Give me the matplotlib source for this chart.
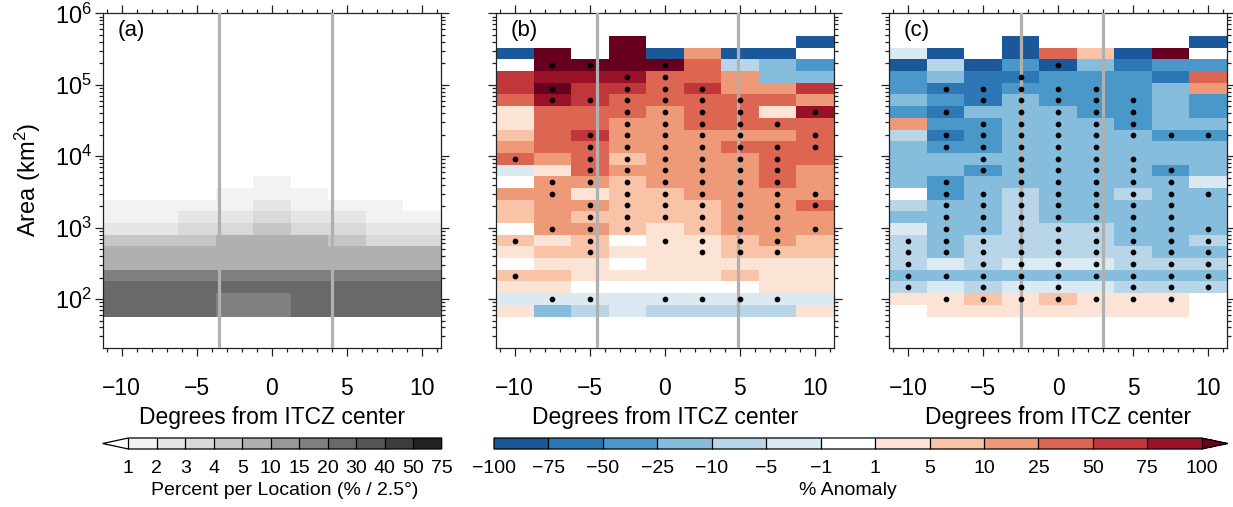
import numpy as np
import matplotlib
matplotlib.use('Agg')
import matplotlib.pyplot as plt
from matplotlib.colors import ListedColormap, BoundaryNorm
from matplotlib.ticker import LogLocator, MultipleLocator, NullFormatter, FixedLocator

plt.rcParams['font.family'] = ['Liberation Sans', 'DejaVu Sans']
plt.rcParams['mathtext.fontset'] = 'custom'
plt.rcParams['mathtext.rm'] = 'Liberation Sans'
plt.rcParams['mathtext.it'] = 'Liberation Sans:italic'

nan = np.nan

# ---- grid: 2.5 deg latitude bins, log-spaced area bins (top row = largest area)
lat_centers = [-10, -7.5, -5, -2.5, 0, 2.5, 5, 7.5, 10]
lat_edges = [-11.25, -8.75, -6.25, -3.75, -1.25, 1.25, 3.75, 6.25, 8.75, 11.25]
log_area_top, log_area_bottom, n_area_bins = 5.682, 1.755, 24

# ITCZ edges (gray vertical lines) per panel
itcz_edges_a = [-3.5, 4.0]
itcz_edges_b = [-4.5, 4.9]
itcz_edges_c = [-2.5, 3.0]

# ---- (a) percent per location, rows from largest to smallest area
pct_a = [
    [0.5] * 9, [0.5] * 9, [0.5] * 9, [0.5] * 9, [0.5] * 9, [0.5] * 9,
    [0.5] * 9, [0.5] * 9, [0.5] * 9, [0.5] * 9, [0.5] * 9, [0.5] * 9,
    [0.5, 0.5, 0.5, 0.5, 1.5, 0.5, 0.5, 0.5, 0.5],
    [0.5, 0.5, 0.5, 1.5, 1.5, 1.5, 0.5, 0.5, 0.5],
    [1.5, 1.5, 1.5, 1.5, 2.5, 1.5, 1.5, 1.5, 0.5],
    [1.5, 1.5, 2.5, 2.5, 3.5, 2.5, 2.5, 1.5, 1.5],
    [2.5, 2.5, 3.5, 3.5, 4.5, 3.5, 3.5, 2.5, 2.5],
    [4.5, 4.5, 4.5, 7.0, 7.0, 7.0, 4.5, 3.5, 3.5],
    [7.0, 7.0, 7.0, 7.0, 7.0, 7.0, 7.0, 7.0, 7.0],
    [7.0, 7.0, 7.0, 7.0, 7.0, 7.0, 7.0, 7.0, 7.0],
    [17, 17, 17, 17, 17, 17, 17, 17, 17],
    [25, 25, 25, 25, 25, 25, 25, 25, 25],
    [25, 25, 25, 17, 17, 25, 25, 25, 25],
    [25, 25, 25, 17, 17, 25, 25, 25, 25],
]

# ---- (b) % anomaly
anom_b = [
    [nan, nan, nan, 120, nan, nan, nan, nan, -90],
    [-90, 120, nan, 120, -90, 18, -90, -90, nan],
    [0, 120, 120, 120, 120, 40, -8, -18, -40],
    [60, 90, 90, 90, 40, 40, 18, -18, -18],
    [60, 120, 60, 60, 40, 60, 18, 18, 60],
    [40, 90, 60, 40, 40, 40, 40, 40, 18],
    [3, 40, 40, 40, 18, 40, 40, 3, 90],
    [3, 40, 40, 18, 18, 40, 40, 40, 40],
    [8, 40, 60, 18, 18, 18, 18, 18, 40],
    [18, 40, 40, 18, 18, 18, 40, 40, 40],
    [40, 18, 40, 8, 18, 18, 18, 40, 40],
    [-3, 3, 40, 18, 18, 18, 18, 40, 18],
    [0, 18, 18, 8, 18, 18, 18, 40, 18],
    [18, 18, 3, 8, 8, 18, 18, 18, 18],
    [8, 18, 18, 8, 8, 8, 18, 18, 40],
    [8, 18, 8, 8, 8, 8, 18, 18, 18],
    [0, 18, 18, 8, 3, 8, 18, 18, 18],
    [8, 3, 8, 0, 3, 3, 8, 18, 8],
    [3, 8, 8, 3, 3, 3, 8, 8, 8],
    [0, 3, 3, 0, 3, 3, 3, 3, 3],
    [8, 8, 3, 3, 3, 3, 8, 3, 3],
    [3, 3, 0, 0, 0, 0, 0, 3, 3],
    [-3, -3, -3, -3, -3, -3, -3, -3, -3],
    [3, -18, -8, -3, -8, -8, -8, -8, 3],
]
sig_b = [
    "000000000", "000000000", "011010000", "000110000", "010111000",
    "011111100", "000111101", "000111110", "001111101", "001111111",
    "101111110", "001111110", "011111110", "010111111", "001111111",
    "001111110", "011101111", "101011110", "001001110", "000000000",
    "100000000", "000000000", "011011110", "000000000",
]

# ---- (c) % anomaly
anom_c = [
    [nan, nan, nan, -90, nan, nan, nan, nan, -90],
    [-3, -90, nan, -90, 40, 8, -90, 120, nan],
    [-90, -8, -90, -40, -90, -18, -60, -40, -40],
    [-40, -18, -60, -60, -40, -40, -40, -60, 40],
    [-40, -60, -60, -40, -40, -40, -40, -18, 18],
    [-18, -40, -60, -18, -40, -40, -40, -18, -40],
    [-40, -60, -18, -18, -18, -40, -40, -18, -40],
    [18, -40, -40, -18, -18, -18, -40, -18, -18],
    [-8, -60, -40, -18, -18, -18, -18, -40, -40],
    [-18, -40, -40, -18, -18, -18, -18, -18, -18],
    [-18, -18, -18, -18, -18, -18, -18, -18, -18],
    [-18, -18, -40, -18, -18, -18, -18, -40, -18],
    [-18, -40, -18, -18, -18, -18, -18, -18, -3],
    [0, -40, -18, -8, -18, -18, -8, -18, -18],
    [-8, -18, -18, -8, -18, -18, -18, -18, -18],
    [-18, -18, -18, -8, -18, -18, -18, -18, -18],
    [-3, -18, -18, -8, -8, -8, -18, -18, -18],
    [-8, -18, -8, -8, -8, -8, -18, -18, -8],
    [-8, -18, -8, -8, -8, -8, -8, -18, -18],
    [-8, -3, -8, -3, -3, -3, -8, -8, -8],
    [-18, -18, -18, -18, -18, -18, -18, -18, -18],
    [-8, -3, -8, -3, -3, -3, -8, -8, -8],
    [3, 3, 8, 3, 8, 3, 3, 3, nan],
    [nan, 3, 3, 3, 3, 3, 3, 3, nan],
]
sig_c = [
    "000000000", "000000000", "000010000", "000100000", "011111000",
    "001111100", "010111100", "001111100", "011111111", "011111000",
    "001111100", "001111110", "010111110", "011111111", "011111110",
    "011111110", "011111111", "111111111", "111111111", "101111111",
    "111111111", "101110111", "011111110", "000000000",
]

# ---- colour scales
gray_levels = [1, 2, 3, 4, 5, 10, 15, 20, 30, 40, 50, 75]
gray_colors = ['#f2f2f2', '#e5e5e5', '#d9d9d9', '#c6c6c6', '#b0b0b0', '#989898',
               '#808080', '#696969', '#555555', '#3c3c3c', '#222222']
anom_levels = [-100, -75, -50, -25, -10, -5, -1, 1, 5, 10, 25, 50, 75, 100]
anom_colors = ['#1a5899', '#2d77b5', '#4a98c9', '#86bcdc', '#b8d6e8', '#dbe9f2', '#ffffff',
               '#fbe3d5', '#f9c3a8', '#ee9a79', '#dc6651', '#c1363a', '#991127']

gray_cmap = ListedColormap(gray_colors)
gray_cmap.set_under('white')
gray_norm = BoundaryNorm(gray_levels, gray_cmap.N)
anom_cmap = ListedColormap(anom_colors)
anom_cmap.set_over('#67001f')
anom_cmap.set_bad('white')
anom_norm = BoundaryNorm(anom_levels, anom_cmap.N)

area_edges = np.logspace(log_area_top, log_area_bottom, n_area_bins + 1)
area_centers = np.sqrt(area_edges[:-1] * area_edges[1:])

W, H = 1233, 507
fig = plt.figure(figsize=(W / 100, H / 100), dpi=100)


def px_axes(left, top, right, bottom):
    return fig.add_axes([left / W, 1 - bottom / H, (right - left) / W, (bottom - top) / H])


def style_panel(ax, label, edges, show_ylabels):
    ax.set_yscale('log')
    ax.set_xlim(-11.25, 11.25)
    ax.set_ylim(10 ** 1.31, 1e6)
    ax.xaxis.set_major_locator(FixedLocator([-10, -5, 0, 5, 10]))
    ax.xaxis.set_minor_locator(MultipleLocator(1))
    ax.yaxis.set_major_locator(LogLocator(base=10, numticks=10))
    ax.yaxis.set_minor_locator(LogLocator(base=10, subs=np.arange(2, 10), numticks=20))
    ax.yaxis.set_minor_formatter(NullFormatter())
    ax.tick_params(which='both', direction='out', top=True, right=True, width=0.9,
                   color='#222222')
    ax.tick_params(which='major', length=6)
    ax.tick_params(which='minor', length=3)
    ax.tick_params(axis='x', which='major', labelsize=16.5, pad=15)
    ax.tick_params(axis='y', which='major', labelsize=17, pad=2)
    if not show_ylabels:
        ax.set_yticklabels([])
    for sp in ax.spines.values():
        sp.set_color('#222222')
        sp.set_linewidth(0.9)
    for x in edges:
        ax.axvline(x, color='#b0b0b0', lw=2.3, zorder=3)
    ax.set_xlabel('Degrees from ITCZ center', fontsize=16.5, labelpad=4)
    ax.text(0.042, 0.95, label, transform=ax.transAxes, fontsize=16,
            ha='left', va='center', zorder=5)


def draw_dots(ax, sig):
    xs, ys = [], []
    for i, row in enumerate(sig):
        for j, flag in enumerate(row):
            if flag == '1':
                xs.append(lat_centers[j])
                ys.append(area_centers[i])
    ax.plot(xs, ys, 'o', ms=3.1, color='k', zorder=4)


ax_a = px_axes(103, 13.3, 440.5, 348.3)
ax_b = px_axes(496, 13.3, 833.5, 348.3)
ax_c = px_axes(889.3, 13.3, 1226.8, 348.3)

ax_a.pcolormesh(lat_edges, area_edges, np.array(pct_a), cmap=gray_cmap, norm=gray_norm,
                linewidth=0, antialiased=False)
style_panel(ax_a, '(a)', itcz_edges_a, True)

ax_b.pcolormesh(lat_edges, area_edges, np.ma.masked_invalid(anom_b), cmap=anom_cmap,
                norm=anom_norm, linewidth=0, antialiased=False)
style_panel(ax_b, '(b)', itcz_edges_b, False)
draw_dots(ax_b, sig_b)

ax_c.pcolormesh(lat_edges, area_edges, np.ma.masked_invalid(anom_c), cmap=anom_cmap,
                norm=anom_norm, linewidth=0, antialiased=False)
style_panel(ax_c, '(c)', itcz_edges_c, False)
draw_dots(ax_c, sig_c)

fig.text(28 / W, 1 - 180 / H, 'Area (km$^2$)', rotation=90, ha='center', va='center',
         fontsize=17)

# ---- colorbars
cax_a = px_axes(102.7, 438, 441.7, 449)
sm_a = plt.cm.ScalarMappable(cmap=gray_cmap, norm=gray_norm)
cb_a = fig.colorbar(sm_a, cax=cax_a, orientation='horizontal', extend='min',
                    extendfrac=0.082, drawedges=True, ticks=gray_levels)
cb_a.ax.set_xticklabels([str(v) for v in gray_levels])
cb_a.set_label('Percent per Location (% / 2.5°)', fontsize=14, labelpad=3.5)

cax_b = px_axes(494, 438, 1228, 449)
sm_b = plt.cm.ScalarMappable(cmap=anom_cmap, norm=anom_norm)
cb_b = fig.colorbar(sm_b, cax=cax_b, orientation='horizontal', extend='max',
                    extendfrac=0.037, drawedges=True, ticks=anom_levels)
cb_b.ax.set_xticklabels([str(v).replace('-', '\u2212') for v in anom_levels])
cb_b.set_label('% Anomaly', fontsize=14, labelpad=3.5)

for cb in (cb_a, cb_b):
    cb.ax.tick_params(length=0, labelsize=14, pad=8)
    cb.outline.set_linewidth(0.9)
    cb.dividers.set_linewidth(0.9)

fig.savefig('out.png', dpi=100)
